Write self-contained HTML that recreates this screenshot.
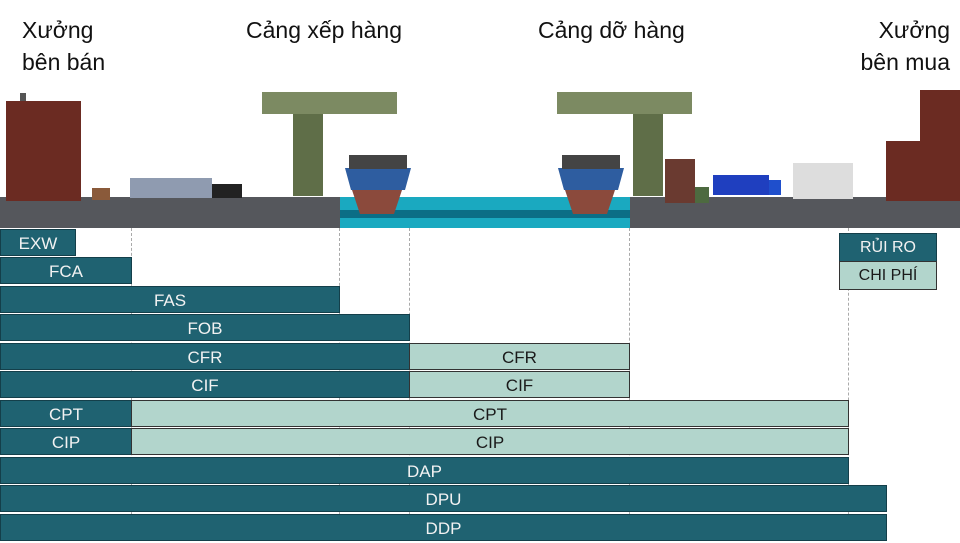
<!DOCTYPE html>
<html><head><meta charset="utf-8"><style>
body{margin:0;width:960px;height:540px;position:relative;overflow:hidden;background:#fff;font-family:"Liberation Sans",sans-serif}
.t{position:absolute;font-size:23px;color:#111;line-height:32px}
.b{position:absolute;z-index:2;height:27px;color:#f2f2f2;font-size:17px;text-align:center;line-height:28px;border:1px solid #143f4a;box-sizing:border-box;background:#1f6271}
.l{background:#b2d5cc;color:#1a1a1a;border-color:#333}
.d{position:absolute;z-index:1;top:228px;bottom:0;border-left:1px dashed #aaa}
</style></head><body>
<div class="t" style="left:22px;top:14px">Xưởng<br>bên bán</div>
<div class="t" style="left:246px;top:14px">Cảng xếp hàng</div>
<div class="t" style="left:538px;top:14px">Cảng dỡ hàng</div>
<div class="t" style="right:10px;top:14px;text-align:right">Xưởng<br>bên mua</div>
<svg style="position:absolute;left:0;top:0" width="960" height="230">
<rect x="0" y="197" width="960" height="31" fill="#55575c"/>
<rect x="340" y="197" width="290" height="31" fill="#1aa9c0"/>
<rect x="340" y="210" width="290" height="8" fill="#0b6e86"/>
<rect x="6" y="101" width="75" height="100" fill="#6b2b22"/>
<rect x="20" y="93" width="6" height="8" fill="#555"/>
<rect x="130" y="178" width="82" height="20" fill="#8f9bb0"/>
<rect x="212" y="184" width="30" height="14" fill="#222"/>
<rect x="92" y="188" width="18" height="12" fill="#8a5a3a"/>
<rect x="262" y="92" width="135" height="22" fill="#7c8a62"/>
<rect x="293" y="114" width="30" height="82" fill="#5f6e48"/>
<path d="M345 168h66l-6 22h-54z" fill="#2e5da0"/><rect x="349" y="155" width="58" height="14" fill="#444"/><path d="M352 190h50l-8 24h-34z" fill="#8b4a3c"/>
<rect x="557" y="92" width="135" height="22" fill="#7c8a62"/>
<rect x="633" y="114" width="30" height="82" fill="#5f6e48"/>
<path d="M558 168h66l-6 22h-54z" fill="#2e5da0"/><rect x="562" y="155" width="58" height="14" fill="#444"/><path d="M565 190h50l-8 24h-34z" fill="#8b4a3c"/>
<rect x="665" y="159" width="30" height="44" fill="#6a3a30"/><rect x="695" y="187" width="14" height="16" fill="#4d6a40"/>
<rect x="713" y="175" width="56" height="20" fill="#1f3fbf"/><rect x="769" y="180" width="12" height="15" fill="#1f4fcc"/>
<rect x="793" y="163" width="60" height="36" fill="#ddd"/>
<rect x="886" y="141" width="74" height="60" fill="#6b2b22"/><rect x="920" y="90" width="40" height="60" fill="#6b2b22"/>
</svg>
<div class="d" style="left:131px"></div><div class="d" style="left:339px"></div><div class="d" style="left:409px"></div><div class="d" style="left:629px"></div><div class="d" style="left:848px"></div>
<div class="b" style="left:0;top:229px;width:76px">EXW</div>
<div class="b" style="left:0;top:257px;width:132px">FCA</div>
<div class="b" style="left:0;top:286px;width:340px">FAS</div>
<div class="b" style="left:0;top:314px;width:410px">FOB</div>
<div class="b" style="left:0;top:343px;width:410px">CFR</div>
<div class="b l" style="left:409px;top:343px;width:221px">CFR</div>
<div class="b" style="left:0;top:371px;width:410px">CIF</div>
<div class="b l" style="left:409px;top:371px;width:221px">CIF</div>
<div class="b" style="left:0;top:400px;width:132px">CPT</div>
<div class="b l" style="left:131px;top:400px;width:718px">CPT</div>
<div class="b" style="left:0;top:428px;width:132px">CIP</div>
<div class="b l" style="left:131px;top:428px;width:718px">CIP</div>
<div class="b" style="left:0;top:457px;width:849px">DAP</div>
<div class="b" style="left:0;top:485px;width:887px">DPU</div>
<div class="b" style="left:0;top:514px;width:887px">DDP</div>
<div class="b" style="left:839px;top:233px;width:98px;height:29px;font-size:16px">RỦI RO</div>
<div class="b l" style="left:839px;top:261px;width:98px;height:29px;font-size:16px">CHI PHÍ</div>
</body></html>
